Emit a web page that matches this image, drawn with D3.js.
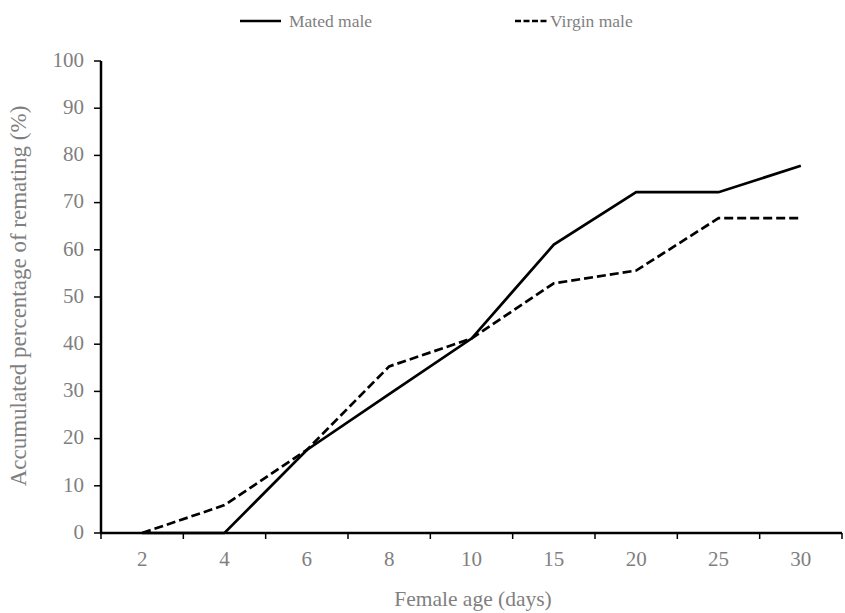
<!DOCTYPE html>
<html><head><meta charset="utf-8">
<script src="https://cdn.jsdelivr.net/npm/d3@7"></script>
<style>body{margin:0;background:#fff}</style>
</head><body>
<svg id="c" width="845" height="613"></svg>
<script>
const categories = ["2","4","6","8","10","15","20","25","30"];
const matedMale = [0,0,17.6,29.4,41.2,61.1,72.2,72.2,77.8];
const virginMale = [0,5.9,17.6,35.3,41.2,52.9,55.6,66.7,66.7];
const yTicks = [0,10,20,30,40,50,60,70,80,90,100];

(function(){
const svg = d3.select("#c");
const mL = 101, mR = 842, mT = 61, mB = 533;
const x = d3.scaleBand().domain(categories).range([mL,mR]).paddingInner(0).paddingOuter(0);
const y = d3.scaleLinear().domain([0,100]).range([mB,mT]);
const font = "'Liberation Serif','Times New Roman',serif";
const gray = "#7f7f7f";

// x axis
const xa = svg.append("g").attr("transform",`translate(0,${mB})`);
xa.append("line").attr("x1",mL-1).attr("x2",mR).attr("y1",0).attr("y2",0).attr("stroke","#000").attr("stroke-width",2.5);
const bounds = categories.map(c=>x(c)).concat([x(categories[categories.length-1])+x.bandwidth()]);
xa.selectAll("line.t").data(bounds).enter().append("line").attr("class","t")
  .attr("x1",d=>d).attr("x2",d=>d).attr("y1",0).attr("y2",6).attr("stroke","#000").attr("stroke-width",1.5);
xa.selectAll("text").data(categories).enter().append("text")
  .attr("x",d=>x(d)+x.bandwidth()/2).attr("y",33).attr("text-anchor","middle")
  .attr("font-family",font).attr("font-size",21).attr("fill",gray).text(d=>d);

// y axis
const ya = svg.append("g");
ya.append("line").attr("x1",mL).attr("x2",mL).attr("y1",mT).attr("y2",mB).attr("stroke","#000").attr("stroke-width",2.5);
ya.selectAll("line.t").data(yTicks).enter().append("line").attr("class","t")
  .attr("x1",mL-7).attr("x2",mL).attr("y1",d=>y(d)).attr("y2",d=>y(d)).attr("stroke","#000").attr("stroke-width",1.5);
ya.selectAll("text").data(yTicks).enter().append("text")
  .attr("x",mL-17).attr("y",d=>y(d)).attr("dy","0.28em").attr("text-anchor","end")
  .attr("font-family",font).attr("font-size",21).attr("fill",gray).text(d=>d);

// titles
svg.append("text").attr("x",473).attr("y",606).attr("text-anchor","middle")
  .attr("font-family",font).attr("font-size",21.5).attr("fill",gray).text("Female age (days)");
svg.append("text").attr("transform",`translate(26,296) rotate(-90)`).attr("text-anchor","middle")
  .attr("font-family",font).attr("font-size",23).attr("fill",gray).text("Accumulated percentage of remating (%)");

// lines
const line = d3.line().x((d,i)=>x(categories[i])+x.bandwidth()/2).y(d=>y(d));
svg.append("path").datum(virginMale).attr("d",line).attr("fill","none").attr("stroke","#000")
  .attr("stroke-width",2.7).attr("stroke-dasharray","9,4");
svg.append("path").datum(matedMale).attr("d",line).attr("fill","none").attr("stroke","#000")
  .attr("stroke-width",2.7);

// legend
const lg = svg.append("g");
lg.append("line").attr("x1",240).attr("x2",281).attr("y1",21).attr("y2",21).attr("stroke","#000").attr("stroke-width",2.7);
lg.append("text").attr("x",289).attr("y",21).attr("dy","0.33em").attr("font-family",font).attr("font-size",17.5).attr("fill",gray).text("Mated male");
lg.append("line").attr("x1",515).attr("x2",549).attr("y1",21).attr("y2",21).attr("stroke","#000").attr("stroke-width",2.7).attr("stroke-dasharray","6,2.5");
lg.append("text").attr("x",550).attr("y",21).attr("dy","0.33em").attr("font-family",font).attr("font-size",17.5).attr("fill",gray).text("Virgin male");
})();
</script>
</body></html>
